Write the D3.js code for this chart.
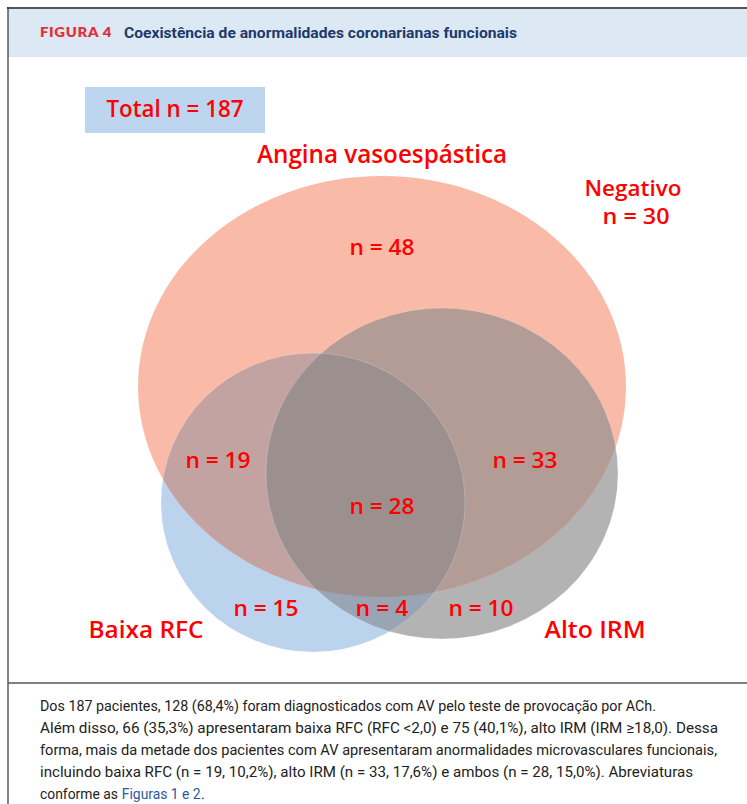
<!DOCTYPE html>
<html><head><meta charset="utf-8">
<script src="https://cdn.jsdelivr.net/npm/d3@7"></script>
<style>
html,body{margin:0;padding:0;background:#fff;}
svg{display:block;}
</style></head>
<body>
<script>
// ---- data ----
const setNames = ["Angina vasoespástica", "Baixa RFC", "Alto IRM"];
const regionKeys = ["AV", "AV+RFC", "AV+IRM", "AV+RFC+IRM", "RFC", "RFC+IRM", "IRM"];
const regionCounts = [48, 19, 33, 28, 15, 4, 10];
const negativeCount = 30;
const totalCount = 187;
const figureLabel = "FIGURA 4";
const figureTitle = "Coexistência de anormalidades coronarianas funcionais";
const captionLines = [
  "Dos 187 pacientes, 128 (68,4%) foram diagnosticados com AV pelo teste de provocação por ACh.",
  "Além disso, 66 (35,3%) apresentaram baixa RFC (RFC <2,0) e 75 (40,1%), alto IRM (IRM ≥18,0). Dessa",
  "forma, mais da metade dos pacientes com AV apresentaram anormalidades microvasculares funcionais,",
  "incluindo baixa RFC (n = 19, 10,2%), alto IRM (n = 33, 17,6%) e ambos (n = 28, 15,0%). Abreviaturas"
];
const captionLastParts = ["conforme as", "Figuras 1 e 2", "."];

// ---- layout ----
const W = 747, H = 804;
const svg = d3.select("body").append("svg").attr("width", W).attr("height", H);
const FONT = "'Open Sans', 'Noto Sans', sans-serif";
const RED = "#ff0000";

// frame
svg.append("rect").attr("x", 8).attr("y", 9).attr("width", W - 8).attr("height", 48).attr("fill", "#dce8f4");
svg.append("line").attr("x1", 7).attr("x2", W).attr("y1", 8).attr("y2", 8).attr("stroke", "#555").attr("stroke-width", 2);
svg.append("line").attr("x1", 8).attr("x2", 8).attr("y1", 7).attr("y2", H).attr("stroke", "#333").attr("stroke-width", 1.2);
svg.append("line").attr("x1", 8).attr("x2", W).attr("y1", 683).attr("y2", 683).attr("stroke", "#555").attr("stroke-width", 1.5);

svg.append("text").attr("x", 40).attr("y", 37).attr("font-family", "'Lato', sans-serif").attr("font-weight", 800)
  .attr("font-size", 13.5).attr("fill", "#e0323c").attr("letter-spacing", 0.6)
  .attr("textLength", 72).attr("lengthAdjust", "spacingAndGlyphs").text(figureLabel);
svg.append("text").attr("x", 124).attr("y", 37.5).attr("font-family", "'Roboto', sans-serif").attr("font-weight", 700)
  .attr("font-size", 15.5).attr("fill", "#1d3a6b")
  .attr("textLength", 393).attr("lengthAdjust", "spacingAndGlyphs").text(figureTitle);

// ellipses: AV (salmon), RFC (blue), IRM (gray)
const ell = [
  {cx: 382, cy: 386.5, rx: 244, ry: 210.5, fill: "#f9bba8"},
  {cx: 313, cy: 502.5, rx: 152, ry: 149.5, fill: "#bcd3ee"},
  {cx: 442, cy: 473.5, rx: 176, ry: 165.5, fill: "#b3b3b4"}
];
const defs = svg.append("defs");
ell.forEach((e, i) => {
  defs.append("clipPath").attr("id", "c" + i).append("ellipse")
    .attr("cx", e.cx).attr("cy", e.cy).attr("rx", e.rx).attr("ry", e.ry);
});
const venn = svg.append("g");
function drawEll(g, i, fill) {
  const e = ell[i];
  return g.append("ellipse").attr("cx", e.cx).attr("cy", e.cy).attr("rx", e.rx).attr("ry", e.ry).attr("fill", fill);
}
drawEll(venn, 1, ell[1].fill);
drawEll(venn, 2, ell[2].fill);
drawEll(venn, 0, ell[0].fill);
drawEll(venn.append("g").attr("clip-path", "url(#c1)"), 0, "#c2a3a2");
drawEll(venn.append("g").attr("clip-path", "url(#c2)"), 0, "#b39c96");
drawEll(venn.append("g").attr("clip-path", "url(#c1)"), 2, "#99a4b4");
drawEll(venn.append("g").attr("clip-path", "url(#c1)").append("g").attr("clip-path", "url(#c2)"), 0, "#9c908f");
[1, 2].forEach(i => {
  const e = ell[i];
  venn.append("ellipse").attr("cx", e.cx).attr("cy", e.cy).attr("rx", e.rx).attr("ry", e.ry)
    .attr("fill", "none").attr("stroke", "#fff").attr("stroke-opacity", 0.25).attr("stroke-width", 0.8);
});

// total box
svg.append("rect").attr("x", 85).attr("y", 87).attr("width", 180).attr("height", 46).attr("fill", "#bdd5ee");
function label(txt, cx, by, size, w) {
  const t = svg.append("text").attr("x", cx).attr("y", by).attr("text-anchor", "middle")
    .attr("font-family", FONT).attr("font-weight", 600).attr("font-size", size).attr("fill", RED).text(txt);
  if (w) t.attr("textLength", w).attr("lengthAdjust", "spacingAndGlyphs");
  return t;
}
label("Total n = " + totalCount, 175, 117, 24, 137);
label(setNames[0], 382, 163, 25, 250);
label("Negativo", 633, 196, 22, 97);
label("n = " + negativeCount, 636, 224, 22, 67);
label(setNames[1], 146, 638, 24, 115);
label(setNames[2], 595, 638, 24, 101);

const regionPos = {
  "AV": [382, 255], "AV+RFC": [218, 468], "AV+IRM": [525, 468], "AV+RFC+IRM": [382, 514],
  "RFC": [266, 616], "RFC+IRM": [382, 616], "IRM": [481, 616]
};
regionKeys.forEach((k, i) => {
  const p = regionPos[k];
  label("n = " + regionCounts[i], p[0], p[1], 22, String(regionCounts[i]).length === 2 ? 65 : 53);
});

// caption
const capW = [616, 678, 677, 653];
const capFont = "'Roboto', sans-serif";
captionLines.forEach((l, i) => {
  svg.append("text").attr("x", 40).attr("y", 711 + i * 22).attr("font-family", capFont)
    .attr("font-size", 15).attr("fill", "#222")
    .attr("textLength", capW[i]).attr("lengthAdjust", "spacingAndGlyphs").text(l);
});
// last line: separate pieces at a font size that gives the reference width
const lastColors = ["#222", "#2a5a9c", "#222"];
const pieces = captionLastParts.map((p, i) => svg.append("text").attr("y", 799).attr("font-family", capFont)
  .attr("font-size", 15).attr("fill", lastColors[i]).text(p));
let nat = pieces.map(t => t.node().getComputedTextLength());
const fs = 15 * 164 / (d3.sum(nat) + 15 * 0.25);
pieces.forEach(t => t.attr("font-size", fs));
nat = pieces.map(t => t.node().getComputedTextLength());
let px = 40;
pieces.forEach((t, i) => {
  t.attr("x", px);
  px += nat[i] + (i === 0 ? fs * 0.25 + 0.5 : 0.3);
});
</script>
</body></html>
